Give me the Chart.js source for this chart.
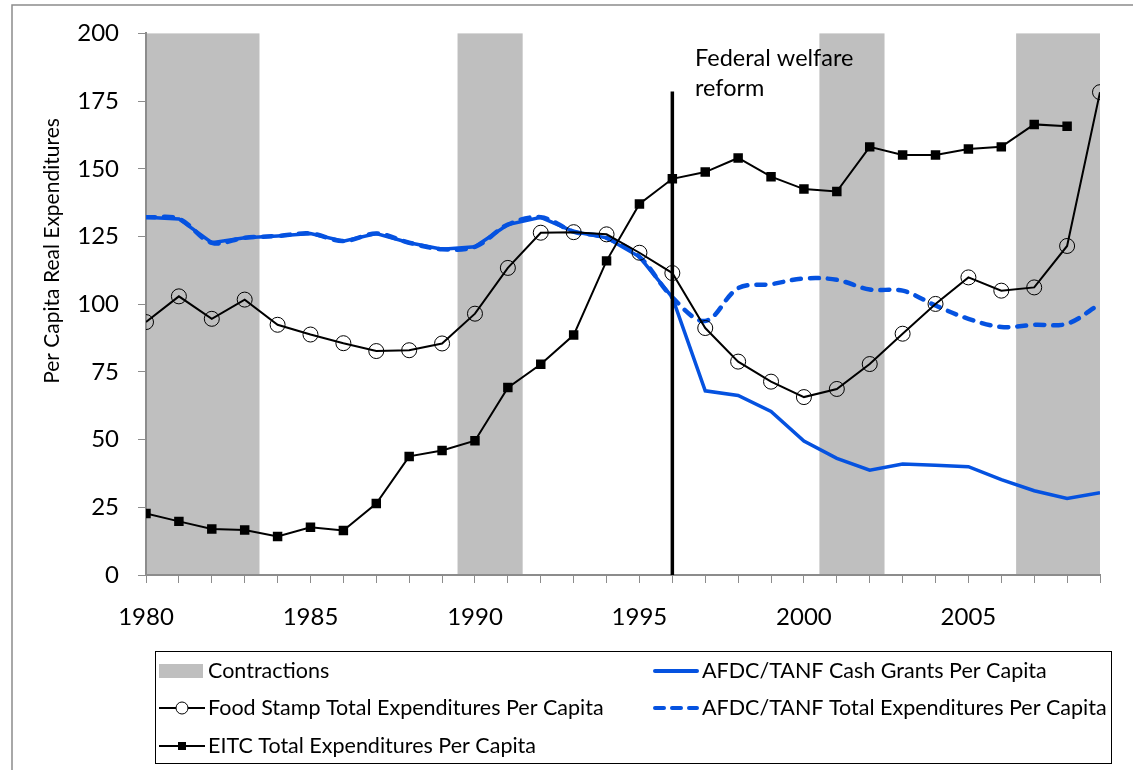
<!DOCTYPE html>
<html>
<head>
<meta charset="utf-8">
<script src="https://cdn.jsdelivr.net/npm/chart.js@4.4.0/dist/chart.umd.min.js"></script>
<style>
html, body { margin: 0; padding: 0; background: #fff; }
#wrap { width: 1133px; height: 770px; position: relative; }
</style>
</head>
<body>
<div id="wrap"><canvas id="myChart" width="1133" height="770"></canvas></div>
<script>
// data
var years = [1980,1981,1982,1983,1984,1985,1986,1987,1988,1989,1990,1991,1992,1993,1994,
             1995,1996,1997,1998,1999,2000,2001,2002,2003,2004,2005,2006,2007,2008,2009];
var foodStamp = [93.4,102.9,94.6,101.7,92.4,88.8,85.6,82.7,83.0,85.5,96.5,113.4,126.4,126.6,125.8,
                 119.0,111.5,91.2,78.8,71.4,65.7,68.7,77.9,89.1,100.1,109.9,105.0,106.2,121.5,178.3];
var eitc = [22.7,19.8,17.0,16.6,14.2,17.6,16.4,26.4,43.8,46.0,49.6,69.2,77.8,88.6,116.0,
            137.0,146.3,148.8,154.0,147.1,142.5,141.6,158.1,155.1,155.1,157.3,158.1,166.4,165.7,null];
var afdcCash = [132.1,131.5,122.7,124.5,125.2,126.1,123.3,126.1,122.7,120.3,121.2,129.4,132.1,126.8,124.5,
                117.5,102.5,68.0,66.3,60.4,49.5,43.1,38.7,41.0,40.5,40.0,35.2,31.1,28.3,30.4];
var afdcTotal = [132.1,131.5,122.7,124.5,125.2,126.1,123.3,126.1,122.7,120.3,121.2,129.4,132.1,126.8,124.5,
                 117.5,102.5,93.8,105.9,107.4,109.5,109.0,105.4,105.0,99.5,94.6,91.6,92.4,92.8,100.1];
var contractions = [[1980,1983.45],[1989.47,1991.45],[2000.47,2002.45],[2006.45,2009]];
var reformYear = 1996;
var reformTop = 178.5;

var FONT = 'Lato, "Open Sans", sans-serif';
var BLUE = '#0552e0';
var GRAY = '#bfbfbf';

function pts(vals) {
  return years.map(function (yr, i) { return { x: yr, y: vals[i] }; });
}

// grey recession bands, drawn under everything
var bandPlugin = {
  id: 'bands',
  beforeDraw: function (chart) {
    var ctx = chart.ctx, xs = chart.scales.x, ys = chart.scales.y;
    ctx.save();
    ctx.fillStyle = GRAY;
    contractions.forEach(function (b) {
      var x0 = xs.getPixelForValue(b[0]), x1 = xs.getPixelForValue(b[1]);
      var yT = ys.getPixelForValue(200), yB = ys.getPixelForValue(0);
      ctx.fillRect(x0, yT, x1 - x0, yB - yT);
    });
    // outer frame
    ctx.strokeStyle = '#8c8c8c';
    ctx.lineWidth = 1.5;
    ctx.strokeRect(12, 5, 1200, 900);
    ctx.restore();
  }
};

// texts and legend box
var extrasPlugin = {
  id: 'extras',
  afterDraw: function (chart) {
    var ctx = chart.ctx;
    ctx.save();
    ctx.fillStyle = '#000';
    ctx.textBaseline = 'middle';

    // y title
    ctx.save();
    ctx.translate(52, 251);
    ctx.rotate(-Math.PI / 2);
    ctx.textAlign = 'center';
    ctx.font = '21px ' + FONT;
    ctx.fillText('Per Capita Real Expenditures', 0, 0);
    ctx.restore();

    // annotation
    ctx.textAlign = 'left';
    ctx.font = '23.5px ' + FONT;
    ctx.fillText('Federal welfare', 695, 58);
    ctx.fillText('reform', 695, 88);

    // legend
    ctx.strokeStyle = '#000';
    ctx.lineWidth = 1;
    ctx.strokeRect(155.5, 651.5, 956, 112);
    ctx.font = '21.5px ' + FONT;
    var items = [
      { label: 'Contractions', x: 159, y: 671, kind: 'box' },
      { label: 'AFDC/TANF Cash Grants Per Capita', x: 653, y: 671, kind: 'solid' },
      { label: 'Food Stamp Total Expenditures Per Capita', x: 159, y: 708, kind: 'circle' },
      { label: 'AFDC/TANF Total Expenditures Per Capita', x: 653, y: 708, kind: 'dash' },
      { label: 'EITC Total Expenditures Per Capita', x: 159, y: 746, kind: 'square' }
    ];
    items.forEach(function (it) {
      var x = it.x, y = it.y, w = 46;
      if (it.kind === 'box') {
        ctx.fillStyle = GRAY;
        ctx.fillRect(x, y - 7, w - 2, 14);
      } else if (it.kind === 'solid' || it.kind === 'dash') {
        ctx.strokeStyle = BLUE;
        ctx.lineWidth = 4;
        ctx.lineCap = 'round';
        ctx.setLineDash(it.kind === 'dash' ? [9, 8] : []);
        ctx.beginPath();
        ctx.moveTo(x + 2, y);
        ctx.lineTo(x + w - 2, y);
        ctx.stroke();
        ctx.setLineDash([]);
        ctx.lineCap = 'butt';
      } else {
        ctx.strokeStyle = '#000';
        ctx.lineWidth = 2;
        ctx.beginPath();
        ctx.moveTo(x, y);
        ctx.lineTo(x + w, y);
        ctx.stroke();
        ctx.fillStyle = '#000';
        ctx.lineWidth = 1;
        if (it.kind === 'circle') {
          ctx.beginPath();
          ctx.arc(x + w / 2, y, 6, 0, Math.PI * 2);
          ctx.fillStyle = '#fff';
          ctx.fill();
          ctx.stroke();
        } else {
          ctx.fillRect(x + w / 2 - 4, y - 4, 8, 8);
        }
      }
      ctx.fillStyle = '#000';
      ctx.fillText(it.label, x + w + 3, y);
    });
    ctx.restore();
  }
};

new Chart('myChart', {
  type: 'line',
  data: {
    datasets: [
      {
        label: 'reform',
        data: [{ x: reformYear, y: 0 }, { x: reformYear, y: reformTop }],
        borderColor: '#000',
        borderWidth: 3.5,
        pointRadius: 0
      },
      {
        label: 'EITC Total Expenditures Per Capita',
        data: pts(eitc),
        borderColor: '#000',
        borderWidth: 2,
        pointStyle: 'rect',
        pointRadius: 6.7,
        pointBackgroundColor: '#000',
        pointBorderColor: '#000',
        pointBorderWidth: 0
      },
      {
        label: 'Food Stamp Total Expenditures Per Capita',
        data: pts(foodStamp),
        borderColor: '#000',
        borderWidth: 2,
        pointStyle: 'circle',
        pointRadius: 7.5,
        pointBackgroundColor: 'rgba(0,0,0,0)',
        pointBorderColor: '#000',
        pointBorderWidth: 1
      },
      {
        label: 'AFDC/TANF Total Expenditures Per Capita',
        data: pts(afdcTotal),
        borderColor: BLUE,
        borderWidth: 4.5,
        borderDash: [9, 9],
        borderCapStyle: 'round',
        tension: 0.35,
        pointRadius: 0
      },
      {
        label: 'AFDC/TANF Cash Grants Per Capita',
        data: pts(afdcCash),
        borderColor: BLUE,
        borderWidth: 3.5,
        pointRadius: 0
      }
    ]
  },
  options: {
    responsive: false,
    animation: false,
    layout: { padding: { left: 40, top: 29, right: 33, bottom: 135 } },
    plugins: {
      legend: { display: false },
      tooltip: { enabled: false }
    },
    scales: {
      x: {
        type: 'linear',
        min: 1980,
        max: 2009,
        afterFit: function (s) { s.height = 60; },
        grid: { drawOnChartArea: false, tickLength: 8, color: '#8c8c8c' },
        border: { color: '#8c8c8c', width: 2 },
        ticks: {
          stepSize: 1,
          autoSkip: false,
          maxRotation: 0,
          padding: 20,
          color: '#000',
          font: { family: FONT, size: 24 },
          callback: function (v) { return v % 5 === 0 ? String(v) : ''; }
        }
      },
      y: {
        min: 0,
        max: 200,
        afterFit: function (s) { s.width = 106; },
        grid: { drawOnChartArea: false, tickLength: 8, color: '#8c8c8c' },
        border: { color: '#8c8c8c', width: 2 },
        ticks: {
          stepSize: 25,
          padding: 19,
          color: '#000',
          font: { family: FONT, size: 24 }
        }
      }
    }
  },
  plugins: [bandPlugin, extrasPlugin]
});
</script>
</body>
</html>
